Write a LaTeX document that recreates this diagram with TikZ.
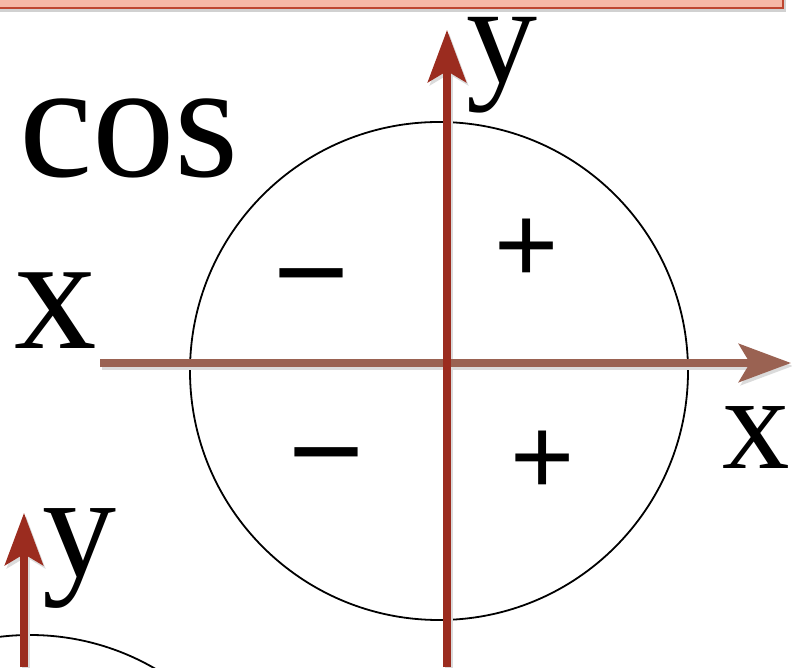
\documentclass[tikz,border=0pt]{standalone}
\usepackage{fontspec}
\setmainfont{Liberation Serif}
\newfontfamily\signfont{Liberation Sans}
\usepackage{tikz}
\usetikzlibrary{arrows.meta}
\definecolor{AxisRed}{HTML}{9B2C1F}
\definecolor{AxisBrown}{HTML}{9A6252}
\definecolor{BoxFill}{HTML}{F6B8A6}
\definecolor{BoxEdge}{HTML}{BE4630}

\begin{document}
\begin{tikzpicture}[x=1pt,y=1pt,
  axis/.style={line width=8pt,-{Stealth[length=52pt,width=38pt,inset=11pt]}},
  axisshadow/.style={axis,black!14,transform canvas={xshift=2pt,yshift=-3pt}},
  letter/.style={anchor=base,inner sep=0pt,font=\fontsize{#1pt}{#1pt}\selectfont},
  sign/.style={inner sep=0pt,font=\signfont\fontsize{#1pt}{#1pt}\selectfont}]
  \useasboundingbox (0,0) rectangle (792,667);
  \clip (0,0) rectangle (792,667);

  % title box, cut by the top edge
  \fill[black!18] (-10,655) rectangle (786,700);
  \filldraw[fill=BoxFill,draw=BoxEdge,line width=2.5pt] (-10,659) rectangle (783,700);

  % unit circles
  \draw[line width=1.8pt] (439,296) circle (249);
  \draw[line width=1.8pt] (30,-217) circle (249);

  % axes
  \coordinate (xstart) at (100,304);
  \coordinate (xend) at (791,304);
  \coordinate (ystart) at (447,0);
  \coordinate (yend) at (447,637);
  \coordinate (ystart2) at (24,0);
  \coordinate (yend2) at (24,154);
  \draw[axisshadow] (xstart) -- (xend);
  \draw[axisshadow] (ystart) -- (yend);
  \draw[axisshadow] (ystart2) -- (yend2);
  \draw[axis,AxisBrown] (xstart) -- (xend);
  \draw[axis,AxisRed] (ystart) -- (yend);
  \draw[axis,AxisRed] (ystart2) -- (yend2);

  % labels
  \node[letter=165] (cos) at (129,490) {cos};
  \node[letter=165] (xleft) at (56,318) {x};
  \node[letter=142] (ytop) at (502,584) {y};
  \node[letter=135] (xright) at (756,199) {x};
  \node[letter=148] (ybot) at (79,91) {y};

  % signs of cos in each quadrant
  \node[sign=130] (q2) at (311,374) {−};
  \node[sign=110] (q1) at (527,416) {+};
  \node[sign=130] (q3) at (326,195) {−};
  \node[sign=110] (q4) at (543,204) {+};
\end{tikzpicture}
\end{document}
